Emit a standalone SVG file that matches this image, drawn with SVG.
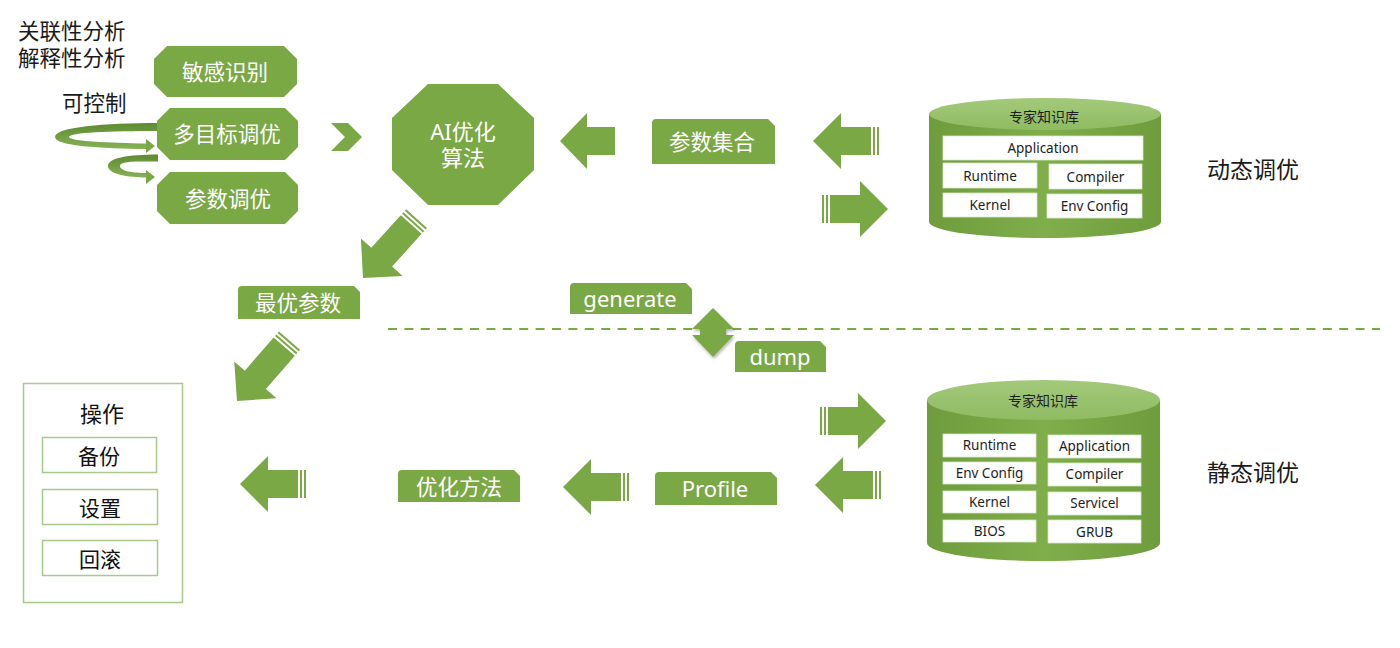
<svg xmlns="http://www.w3.org/2000/svg" xmlns:xlink="http://www.w3.org/1999/xlink" width="1400" height="648" viewBox="0 0 1400 648">
<style>
.g{fill:#7aa845}
.blk{fill:#1a1a1a;font-family:"Noto Sans CJK SC","Noto Sans",sans-serif;font-size:21.5px}
.wt{fill:#ffffff;font-family:"Noto Sans","Noto Sans CJK SC",sans-serif;font-size:21.5px;text-anchor:middle;dominant-baseline:central}
.lbl{fill:#1e1e1e;font-family:"Noto Sans","Noto Sans CJK SC",sans-serif;font-size:13.5px;text-anchor:middle;dominant-baseline:central}
.cell{fill:#ffffff;stroke:#d8e6c8;stroke-width:0.8}
.op{fill:#ffffff;stroke:#a9c98a;stroke-width:1.5}
.opt{fill:#111;font-family:"Noto Sans CJK SC",sans-serif;font-size:21px;text-anchor:middle;dominant-baseline:central}
</style>
<defs>
<linearGradient id="cylBody" x1="0" y1="0" x2="1" y2="0">
<stop offset="0" stop-color="#6f9c3c"/>
<stop offset="0.5" stop-color="#80ae4b"/>
<stop offset="1" stop-color="#6f9c3c"/>
</linearGradient>
<linearGradient id="cylTop" x1="0" y1="0" x2="0" y2="1">
<stop offset="0" stop-color="#a3c97a"/>
<stop offset="1" stop-color="#8fbb62"/>
</linearGradient>
<linearGradient id="loop" x1="0" y1="0" x2="0" y2="1">
<stop offset="0" stop-color="#5e8a33"/>
<stop offset="0.45" stop-color="#6f9c3e"/>
<stop offset="1" stop-color="#86b257"/>
</linearGradient>
<filter id="sh" x="-30%" y="-30%" width="160%" height="160%">
<feDropShadow dx="1" dy="2" stdDeviation="1.5" flood-color="#000" flood-opacity="0.3"/>
</filter>
<g id="arrowS" class="g">
<rect x="0" y="-14" width="2" height="28"/>
<rect x="4" y="-14" width="2" height="28"/>
<polygon points="8,-14 38,-14 38,-28 66,0 38,28 38,14 8,14"/>
</g>
<g id="arrowP" class="g">
<polygon points="0,-14 28,-14 28,-28 55,0 28,28 28,14 0,14"/>
</g>
<g id="arrowD" class="g">
<rect x="0" y="-14" width="2" height="28"/>
<rect x="4" y="-14" width="2" height="28"/>
<polygon points="8,-14 52,-14 52,-28 80,0 52,28 52,14 8,14"/>
</g>
</defs>
<rect width="1400" height="648" fill="#ffffff"/>

<g id="left-notes">
<text class="blk" x="18" y="39">关联性分析<tspan x="18" dy="27">解释性分析</tspan></text>
<text class="blk" x="62" y="111">可控制</text>
</g>

<g id="loops">
<path fill="url(#loop)" d="M158,123 C105,123 55,127 55,137 C55,146 100,148.5 147,149 L147,143.5 C108,143 69,141 69,137 C69,132.5 110,131 158,131 Z"/>
<polygon fill="#7aa845" points="146,139 155,146 146,153"/>
<path fill="url(#loop)" d="M158,154.5 C128,154.5 108,158 108,166 C108,174 128,177.5 147,177.5 L147,173 C132,173 120,171 120,166 C120,161 135,161.5 158,161.5 Z"/>
<polygon fill="#7aa845" points="146,170 155,177 146,184"/>
</g>

<g id="node-mgsb">
<polygon class="g" points="167,46 284,46 297,59 297,84 284,97 167,97 154,84 154,59"/>
<text class="wt" x="225" y="71">敏感识别</text>
</g>
<g id="node-dmbty">
<polygon class="g" points="170,108 285,108 298,121 298,147 285,160 170,160 157,147 157,121"/>
<text class="wt" x="227" y="133">多目标调优</text>
</g>
<g id="node-csty">
<polygon class="g" points="170,172 285,172 298,185 298,211 285,224 170,224 157,211 157,185"/>
<text class="wt" x="228" y="198">参数调优</text>
</g>

<g id="node-ai">
<polygon class="g" points="428,84 498,84 534,118 534,170 498,205 428,205 392,170 392,118"/>
<text class="wt" x="463" y="131" style="font-size:22px">AI优化<tspan x="463" dy="26">算法</tspan></text>
</g>

<g id="node-cszh">
<path class="g" d="M652,123 Q652,119 656,119 H768 L775,126 V164 H652 Z"/>
<text class="wt" x="712" y="141">参数集合</text>
</g>

<g id="node-zycs">
<path class="g" d="M238,290 Q238,286 242,286 H354 L360,292 V319 H238 Z"/>
<text class="wt" x="298" y="302">最优参数</text>
</g>

<g id="node-generate">
<path class="g" d="M570,287 Q570,283 574,283 H686 L692,289 V314 H570 Z"/>
<text class="wt" x="630" y="298" style="font-size:22px">generate</text>
</g>

<g id="node-dump">
<path class="g" d="M735,345 Q735,341 739,341 H820 L826,347 V372 H735 Z"/>
<text class="wt" x="780" y="356" style="font-size:22px">dump</text>
</g>

<g id="node-yhff">
<path class="g" d="M398,474 Q398,470 402,470 H514 L520,476 V502 H398 Z"/>
<text class="wt" x="459" y="486">优化方法</text>
</g>

<g id="node-profile">
<path class="g" d="M655,476 Q655,472 659,472 H771 L777,478 V505 H655 Z"/>
<text class="wt" x="715" y="488" style="font-size:22px">Profile</text>
</g>

<g id="node-kb-dynamic">
<path fill="url(#cylBody)" d="M929,114 V222 A116,16 0 0 0 1161,222 V114 Z"/>
<ellipse cx="1045" cy="114" rx="116" ry="16" fill="url(#cylTop)"/>
<text class="lbl" x="1044" y="116" style="font-size:14px">专家知识库</text>
<rect class="cell" x="943" y="136" width="200" height="24"/>
<text class="lbl" x="1043" y="148">Application</text>
<rect class="cell" x="943" y="163" width="94" height="25"/>
<text class="lbl" x="990" y="175.5">Runtime</text>
<rect class="cell" x="1049" y="164" width="93" height="25"/>
<text class="lbl" x="1095.5" y="176.5">Compiler</text>
<rect class="cell" x="943" y="193" width="94" height="24"/>
<text class="lbl" x="990" y="205">Kernel</text>
<rect class="cell" x="1047" y="194" width="95" height="24"/>
<text class="lbl" x="1094.5" y="206">Env Config</text>
</g>

<g id="node-kb-static">
<path fill="url(#cylBody)" d="M927,400 V543 A116.5,18 0 0 0 1160,543 V400 Z"/>
<ellipse cx="1043.5" cy="400" rx="116.5" ry="20" fill="url(#cylTop)"/>
<text class="lbl" x="1043" y="400" style="font-size:14px">专家知识库</text>
<rect class="cell" x="943" y="434" width="93" height="23"/>
<text class="lbl" x="989.5" y="445">Runtime</text>
<rect class="cell" x="1048" y="435" width="93" height="23"/>
<text class="lbl" x="1094.5" y="446">Application</text>
<rect class="cell" x="943" y="462" width="93" height="22"/>
<text class="lbl" x="989.5" y="473">Env Config</text>
<rect class="cell" x="1048" y="463" width="93" height="23"/>
<text class="lbl" x="1094.5" y="474">Compiler</text>
<rect class="cell" x="943" y="491" width="93" height="22"/>
<text class="lbl" x="989.5" y="502">Kernel</text>
<rect class="cell" x="1048" y="492" width="93" height="23"/>
<text class="lbl" x="1094.5" y="503">Servicel</text>
<rect class="cell" x="943" y="520" width="93" height="22"/>
<text class="lbl" x="989.5" y="531">BIOS</text>
<rect class="cell" x="1048" y="520" width="93" height="23"/>
<text class="lbl" x="1094.5" y="531.5">GRUB</text>
</g>

<g id="node-labels-right">
<text class="blk" x="1207" y="178" style="font-size:23px">动态调优</text>
<text class="blk" x="1207" y="481" style="font-size:23px">静态调优</text>
</g>

<g id="node-ops">
<rect class="op" x="23.5" y="383.5" width="159" height="219"/>
<text class="opt" x="102" y="412" style="font-size:22px">操作</text>
<rect class="op" x="42.5" y="437.5" width="114" height="35"/>
<text class="opt" x="99" y="455">备份</text>
<rect class="op" x="42.5" y="489.5" width="115" height="35"/>
<text class="opt" x="100" y="507">设置</text>
<rect class="op" x="42.5" y="540.5" width="115" height="35"/>
<text class="opt" x="100" y="558">回滚</text>
</g>

<g id="connectors">
<polygon class="g" points="331,123 348,123 362,137 348,151 331,151 345,137"/>
<use href="#arrowP" transform="translate(615,141) scale(-1,1)"/>
<use href="#arrowS" transform="translate(879,141) scale(-1,1)"/>
<use href="#arrowS" transform="translate(822,209)"/>
<use href="#arrowD" transform="translate(363,278) rotate(132) translate(-80,0)"/>
<use href="#arrowD" transform="translate(237,401) rotate(131) translate(-80,0)"/>
<line x1="388" y1="329" x2="1380" y2="329" stroke="#7aa845" stroke-width="2" stroke-dasharray="9 7.4"/>
<polygon class="g" filter="url(#sh)" points="713,308 734,329 726,329 726,335 734,335 713,357 692,335 700,335 700,329 692,329"/>
<use href="#arrowS" transform="translate(820,421)"/>
<use href="#arrowS" transform="translate(881,485) scale(-1,1)"/>
<use href="#arrowS" transform="translate(629,487) scale(-1,1)"/>
<use href="#arrowS" transform="translate(306,484) scale(-1,1)"/>
</g>
</svg>
